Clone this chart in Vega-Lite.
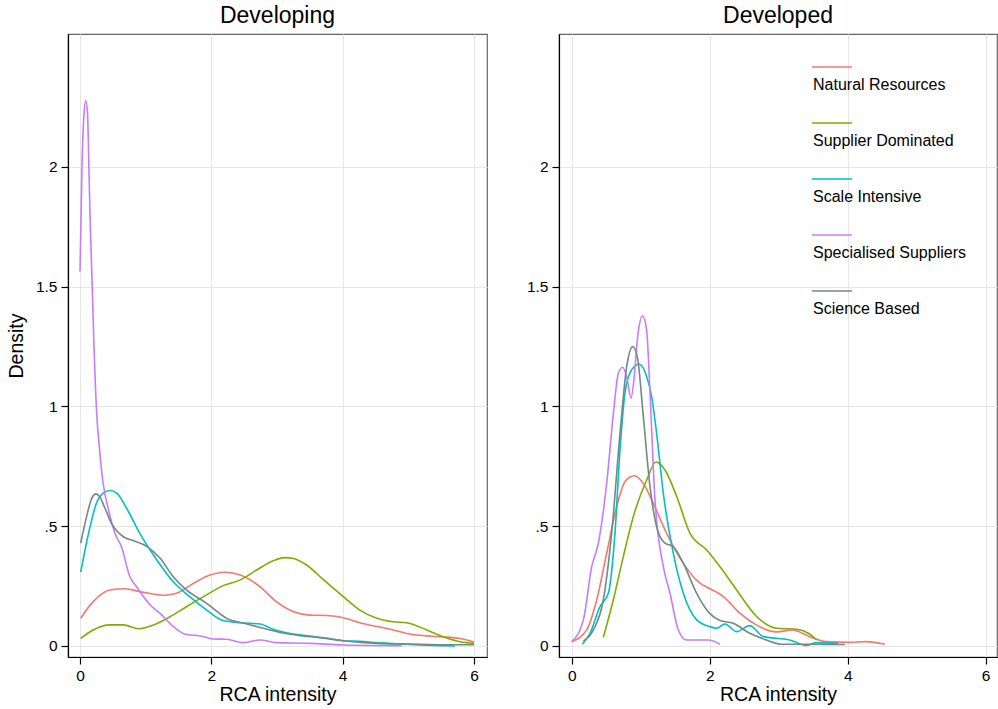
{
  "$schema": "https://vega.github.io/schema/vega-lite/v6.json",
  "padding": {"left": 5, "top": 4, "right": 0, "bottom": 0},
  "background": "white",
  "config": {
    "font": "Liberation Sans",
    "view": {"stroke": "#666666", "strokeWidth": 1.2},
    "title": {"fontSize": 23, "fontWeight": "normal", "color": "black", "offset": 6, "font": "Liberation Sans"},
    "axis": {
      "labelFont": "Liberation Sans", "labelFontSize": 15.5, "labelColor": "black",
      "titleFont": "Liberation Sans", "titleFontSize": 19.5, "titleFontWeight": "normal", "titleColor": "black",
      "domainColor": "black", "domainWidth": 1.2, "tickColor": "black", "tickWidth": 1.2, "tickSize": 7,
      "gridColor": "#e6e6e6", "gridWidth": 1, "labelPadding": 4
    },
    "axisX": {"titlePadding": 2},
    "axisY": {"titlePadding": 9}
  },
  "data": {"values": [
    {"panel":"Developing","series":"Natural Resources","x":0.01,"d":0.116},
    {"panel":"Developing","series":"Natural Resources","x":0.2,"d":0.185},
    {"panel":"Developing","series":"Natural Resources","x":0.457,"d":0.234},
    {"panel":"Developing","series":"Natural Resources","x":0.685,"d":0.239},
    {"panel":"Developing","series":"Natural Resources","x":0.91,"d":0.227},
    {"panel":"Developing","series":"Natural Resources","x":1.27,"d":0.212},
    {"panel":"Developing","series":"Natural Resources","x":1.47,"d":0.22},
    {"panel":"Developing","series":"Natural Resources","x":1.73,"d":0.262},
    {"panel":"Developing","series":"Natural Resources","x":1.98,"d":0.296},
    {"panel":"Developing","series":"Natural Resources","x":2.21,"d":0.308},
    {"panel":"Developing","series":"Natural Resources","x":2.44,"d":0.296},
    {"panel":"Developing","series":"Natural Resources","x":2.74,"d":0.248},
    {"panel":"Developing","series":"Natural Resources","x":2.99,"d":0.185},
    {"panel":"Developing","series":"Natural Resources","x":3.25,"d":0.143},
    {"panel":"Developing","series":"Natural Resources","x":3.5,"d":0.129},
    {"panel":"Developing","series":"Natural Resources","x":3.76,"d":0.127},
    {"panel":"Developing","series":"Natural Resources","x":4.01,"d":0.118},
    {"panel":"Developing","series":"Natural Resources","x":4.26,"d":0.097},
    {"panel":"Developing","series":"Natural Resources","x":4.52,"d":0.081},
    {"panel":"Developing","series":"Natural Resources","x":4.77,"d":0.067},
    {"panel":"Developing","series":"Natural Resources","x":5.02,"d":0.05},
    {"panel":"Developing","series":"Natural Resources","x":5.28,"d":0.042},
    {"panel":"Developing","series":"Natural Resources","x":5.53,"d":0.038},
    {"panel":"Developing","series":"Natural Resources","x":5.79,"d":0.031},
    {"panel":"Developing","series":"Natural Resources","x":6.0,"d":0.017},

    {"panel":"Developing","series":"Supplier Dominated","x":0.01,"d":0.032},
    {"panel":"Developing","series":"Supplier Dominated","x":0.2,"d":0.067},
    {"panel":"Developing","series":"Supplier Dominated","x":0.457,"d":0.088},
    {"panel":"Developing","series":"Supplier Dominated","x":0.66,"d":0.088},
    {"panel":"Developing","series":"Supplier Dominated","x":0.89,"d":0.072},
    {"panel":"Developing","series":"Supplier Dominated","x":1.12,"d":0.088},
    {"panel":"Developing","series":"Supplier Dominated","x":1.37,"d":0.122},
    {"panel":"Developing","series":"Supplier Dominated","x":1.62,"d":0.164},
    {"panel":"Developing","series":"Supplier Dominated","x":1.88,"d":0.206},
    {"panel":"Developing","series":"Supplier Dominated","x":2.18,"d":0.252},
    {"panel":"Developing","series":"Supplier Dominated","x":2.44,"d":0.276},
    {"panel":"Developing","series":"Supplier Dominated","x":2.69,"d":0.317},
    {"panel":"Developing","series":"Supplier Dominated","x":2.94,"d":0.356},
    {"panel":"Developing","series":"Supplier Dominated","x":3.12,"d":0.369},
    {"panel":"Developing","series":"Supplier Dominated","x":3.25,"d":0.365},
    {"panel":"Developing","series":"Supplier Dominated","x":3.45,"d":0.338},
    {"panel":"Developing","series":"Supplier Dominated","x":3.71,"d":0.276},
    {"panel":"Developing","series":"Supplier Dominated","x":4.01,"d":0.206},
    {"panel":"Developing","series":"Supplier Dominated","x":4.26,"d":0.15},
    {"panel":"Developing","series":"Supplier Dominated","x":4.52,"d":0.116},
    {"panel":"Developing","series":"Supplier Dominated","x":4.77,"d":0.101},
    {"panel":"Developing","series":"Supplier Dominated","x":4.97,"d":0.097},
    {"panel":"Developing","series":"Supplier Dominated","x":5.28,"d":0.067},
    {"panel":"Developing","series":"Supplier Dominated","x":5.53,"d":0.039},
    {"panel":"Developing","series":"Supplier Dominated","x":5.79,"d":0.018},
    {"panel":"Developing","series":"Supplier Dominated","x":6.0,"d":0.011},

    {"panel":"Developing","series":"Scale Intensive","x":0.01,"d":0.308},
    {"panel":"Developing","series":"Scale Intensive","x":0.13,"d":0.47},
    {"panel":"Developing","series":"Scale Intensive","x":0.25,"d":0.596},
    {"panel":"Developing","series":"Scale Intensive","x":0.355,"d":0.638},
    {"panel":"Developing","series":"Scale Intensive","x":0.457,"d":0.649},
    {"panel":"Developing","series":"Scale Intensive","x":0.56,"d":0.638},
    {"panel":"Developing","series":"Scale Intensive","x":0.71,"d":0.575},
    {"panel":"Developing","series":"Scale Intensive","x":0.91,"d":0.47},
    {"panel":"Developing","series":"Scale Intensive","x":1.17,"d":0.359},
    {"panel":"Developing","series":"Scale Intensive","x":1.42,"d":0.268},
    {"panel":"Developing","series":"Scale Intensive","x":1.67,"d":0.206},
    {"panel":"Developing","series":"Scale Intensive","x":1.93,"d":0.15},
    {"panel":"Developing","series":"Scale Intensive","x":2.18,"d":0.106},
    {"panel":"Developing","series":"Scale Intensive","x":2.44,"d":0.097},
    {"panel":"Developing","series":"Scale Intensive","x":2.74,"d":0.092},
    {"panel":"Developing","series":"Scale Intensive","x":2.94,"d":0.07},
    {"panel":"Developing","series":"Scale Intensive","x":3.25,"d":0.05},
    {"panel":"Developing","series":"Scale Intensive","x":3.5,"d":0.042},
    {"panel":"Developing","series":"Scale Intensive","x":3.76,"d":0.032},
    {"panel":"Developing","series":"Scale Intensive","x":4.01,"d":0.022},
    {"panel":"Developing","series":"Scale Intensive","x":4.26,"d":0.02},
    {"panel":"Developing","series":"Scale Intensive","x":4.52,"d":0.014},
    {"panel":"Developing","series":"Scale Intensive","x":4.77,"d":0.01},
    {"panel":"Developing","series":"Scale Intensive","x":5.28,"d":0.003},
    {"panel":"Developing","series":"Scale Intensive","x":5.71,"d":0.0},

    {"panel":"Developing","series":"Specialised Suppliers","x":0.0,"d":1.563},
    {"panel":"Developing","series":"Specialised Suppliers","x":0.03,"d":2.0},
    {"panel":"Developing","series":"Specialised Suppliers","x":0.06,"d":2.22},
    {"panel":"Developing","series":"Specialised Suppliers","x":0.088,"d":2.277},
    {"panel":"Developing","series":"Specialised Suppliers","x":0.115,"d":2.22},
    {"panel":"Developing","series":"Specialised Suppliers","x":0.135,"d":2.0},
    {"panel":"Developing","series":"Specialised Suppliers","x":0.152,"d":1.806},
    {"panel":"Developing","series":"Specialised Suppliers","x":0.183,"d":1.528},
    {"panel":"Developing","series":"Specialised Suppliers","x":0.213,"d":1.25},
    {"panel":"Developing","series":"Specialised Suppliers","x":0.254,"d":0.971},
    {"panel":"Developing","series":"Specialised Suppliers","x":0.294,"d":0.832},
    {"panel":"Developing","series":"Specialised Suppliers","x":0.345,"d":0.693},
    {"panel":"Developing","series":"Specialised Suppliers","x":0.447,"d":0.554},
    {"panel":"Developing","series":"Specialised Suppliers","x":0.533,"d":0.47},
    {"panel":"Developing","series":"Specialised Suppliers","x":0.63,"d":0.415},
    {"panel":"Developing","series":"Specialised Suppliers","x":0.76,"d":0.289},
    {"panel":"Developing","series":"Specialised Suppliers","x":0.86,"d":0.248},
    {"panel":"Developing","series":"Specialised Suppliers","x":1.07,"d":0.171},
    {"panel":"Developing","series":"Specialised Suppliers","x":1.22,"d":0.136},
    {"panel":"Developing","series":"Specialised Suppliers","x":1.42,"d":0.081},
    {"panel":"Developing","series":"Specialised Suppliers","x":1.6,"d":0.049},
    {"panel":"Developing","series":"Specialised Suppliers","x":1.83,"d":0.042},
    {"panel":"Developing","series":"Specialised Suppliers","x":2.03,"d":0.029},
    {"panel":"Developing","series":"Specialised Suppliers","x":2.23,"d":0.028},
    {"panel":"Developing","series":"Specialised Suppliers","x":2.49,"d":0.014},
    {"panel":"Developing","series":"Specialised Suppliers","x":2.74,"d":0.025},
    {"panel":"Developing","series":"Specialised Suppliers","x":2.99,"d":0.014},
    {"panel":"Developing","series":"Specialised Suppliers","x":3.5,"d":0.011},
    {"panel":"Developing","series":"Specialised Suppliers","x":4.01,"d":0.004},
    {"panel":"Developing","series":"Specialised Suppliers","x":4.9,"d":0.001},

    {"panel":"Developing","series":"Science Based","x":0.01,"d":0.429},
    {"panel":"Developing","series":"Science Based","x":0.1,"d":0.54},
    {"panel":"Developing","series":"Science Based","x":0.18,"d":0.617},
    {"panel":"Developing","series":"Science Based","x":0.24,"d":0.635},
    {"panel":"Developing","series":"Science Based","x":0.3,"d":0.623},
    {"panel":"Developing","series":"Science Based","x":0.38,"d":0.575},
    {"panel":"Developing","series":"Science Based","x":0.48,"d":0.512},
    {"panel":"Developing","series":"Science Based","x":0.66,"d":0.456},
    {"panel":"Developing","series":"Science Based","x":0.81,"d":0.44},
    {"panel":"Developing","series":"Science Based","x":1.02,"d":0.415},
    {"panel":"Developing","series":"Science Based","x":1.22,"d":0.366},
    {"panel":"Developing","series":"Science Based","x":1.42,"d":0.289},
    {"panel":"Developing","series":"Science Based","x":1.62,"d":0.234},
    {"panel":"Developing","series":"Science Based","x":1.93,"d":0.178},
    {"panel":"Developing","series":"Science Based","x":2.23,"d":0.116},
    {"panel":"Developing","series":"Science Based","x":2.54,"d":0.092},
    {"panel":"Developing","series":"Science Based","x":2.79,"d":0.074},
    {"panel":"Developing","series":"Science Based","x":3.05,"d":0.056},
    {"panel":"Developing","series":"Science Based","x":3.35,"d":0.043},
    {"panel":"Developing","series":"Science Based","x":3.65,"d":0.035},
    {"panel":"Developing","series":"Science Based","x":4.01,"d":0.022},
    {"panel":"Developing","series":"Science Based","x":4.52,"d":0.011},
    {"panel":"Developing","series":"Science Based","x":5.02,"d":0.008},
    {"panel":"Developing","series":"Science Based","x":5.53,"d":0.005},
    {"panel":"Developing","series":"Science Based","x":6.0,"d":0.005},

    {"panel":"Developed","series":"Natural Resources","x":0.0,"d":0.018},
    {"panel":"Developed","series":"Natural Resources","x":0.217,"d":0.067},
    {"panel":"Developed","series":"Natural Resources","x":0.362,"d":0.192},
    {"panel":"Developed","series":"Natural Resources","x":0.507,"d":0.387},
    {"panel":"Developed","series":"Natural Resources","x":0.652,"d":0.582},
    {"panel":"Developed","series":"Natural Resources","x":0.772,"d":0.686},
    {"panel":"Developed","series":"Natural Resources","x":0.903,"d":0.711},
    {"panel":"Developed","series":"Natural Resources","x":1.038,"d":0.679},
    {"panel":"Developed","series":"Natural Resources","x":1.183,"d":0.595},
    {"panel":"Developed","series":"Natural Resources","x":1.376,"d":0.47},
    {"panel":"Developed","series":"Natural Resources","x":1.618,"d":0.345},
    {"panel":"Developed","series":"Natural Resources","x":1.86,"d":0.262},
    {"panel":"Developed","series":"Natural Resources","x":2.0,"d":0.24},
    {"panel":"Developed","series":"Natural Resources","x":2.2,"d":0.206},
    {"panel":"Developed","series":"Natural Resources","x":2.44,"d":0.136},
    {"panel":"Developed","series":"Natural Resources","x":2.68,"d":0.087},
    {"panel":"Developed","series":"Natural Resources","x":2.97,"d":0.059},
    {"panel":"Developed","series":"Natural Resources","x":3.2,"d":0.067},
    {"panel":"Developed","series":"Natural Resources","x":3.45,"d":0.039},
    {"panel":"Developed","series":"Natural Resources","x":3.69,"d":0.018},
    {"panel":"Developed","series":"Natural Resources","x":4.03,"d":0.015},
    {"panel":"Developed","series":"Natural Resources","x":4.27,"d":0.018},
    {"panel":"Developed","series":"Natural Resources","x":4.54,"d":0.007},

    {"panel":"Developed","series":"Supplier Dominated","x":0.458,"d":0.036},
    {"panel":"Developed","series":"Supplier Dominated","x":0.603,"d":0.192},
    {"panel":"Developed","series":"Supplier Dominated","x":0.748,"d":0.373},
    {"panel":"Developed","series":"Supplier Dominated","x":0.893,"d":0.54},
    {"panel":"Developed","series":"Supplier Dominated","x":1.086,"d":0.693},
    {"panel":"Developed","series":"Supplier Dominated","x":1.222,"d":0.768},
    {"panel":"Developed","series":"Supplier Dominated","x":1.352,"d":0.735},
    {"panel":"Developed","series":"Supplier Dominated","x":1.522,"d":0.624},
    {"panel":"Developed","series":"Supplier Dominated","x":1.715,"d":0.47},
    {"panel":"Developed","series":"Supplier Dominated","x":1.957,"d":0.401},
    {"panel":"Developed","series":"Supplier Dominated","x":2.15,"d":0.331},
    {"panel":"Developed","series":"Supplier Dominated","x":2.39,"d":0.234},
    {"panel":"Developed","series":"Supplier Dominated","x":2.68,"d":0.123},
    {"panel":"Developed","series":"Supplier Dominated","x":2.97,"d":0.074},
    {"panel":"Developed","series":"Supplier Dominated","x":3.26,"d":0.07},
    {"panel":"Developed","series":"Supplier Dominated","x":3.43,"d":0.053},
    {"panel":"Developed","series":"Supplier Dominated","x":3.55,"d":0.025},

    {"panel":"Developed","series":"Scale Intensive","x":0.154,"d":0.007},
    {"panel":"Developed","series":"Scale Intensive","x":0.265,"d":0.053},
    {"panel":"Developed","series":"Scale Intensive","x":0.41,"d":0.164},
    {"panel":"Developed","series":"Scale Intensive","x":0.531,"d":0.22},
    {"panel":"Developed","series":"Scale Intensive","x":0.627,"d":0.47},
    {"panel":"Developed","series":"Scale Intensive","x":0.7,"d":0.819},
    {"panel":"Developed","series":"Scale Intensive","x":0.772,"d":1.056},
    {"panel":"Developed","series":"Scale Intensive","x":0.869,"d":1.153},
    {"panel":"Developed","series":"Scale Intensive","x":0.98,"d":1.176},
    {"panel":"Developed","series":"Scale Intensive","x":1.086,"d":1.125},
    {"panel":"Developed","series":"Scale Intensive","x":1.158,"d":1.042},
    {"panel":"Developed","series":"Scale Intensive","x":1.231,"d":0.887},
    {"panel":"Developed","series":"Scale Intensive","x":1.328,"d":0.637},
    {"panel":"Developed","series":"Scale Intensive","x":1.473,"d":0.387},
    {"panel":"Developed","series":"Scale Intensive","x":1.618,"d":0.22},
    {"panel":"Developed","series":"Scale Intensive","x":1.811,"d":0.109},
    {"panel":"Developed","series":"Scale Intensive","x":2.0,"d":0.081},
    {"panel":"Developed","series":"Scale Intensive","x":2.1,"d":0.074},
    {"panel":"Developed","series":"Scale Intensive","x":2.22,"d":0.092},
    {"panel":"Developed","series":"Scale Intensive","x":2.39,"d":0.06},
    {"panel":"Developed","series":"Scale Intensive","x":2.58,"d":0.085},
    {"panel":"Developed","series":"Scale Intensive","x":2.78,"d":0.039},
    {"panel":"Developed","series":"Scale Intensive","x":2.97,"d":0.032},
    {"panel":"Developed","series":"Scale Intensive","x":3.16,"d":0.025},
    {"panel":"Developed","series":"Scale Intensive","x":3.4,"d":0.002},
    {"panel":"Developed","series":"Scale Intensive","x":3.55,"d":0.014},
    {"panel":"Developed","series":"Scale Intensive","x":3.86,"d":0.011},

    {"panel":"Developed","series":"Specialised Suppliers","x":0.0,"d":0.018},
    {"panel":"Developed","series":"Specialised Suppliers","x":0.169,"d":0.109},
    {"panel":"Developed","series":"Specialised Suppliers","x":0.29,"d":0.331},
    {"panel":"Developed","series":"Specialised Suppliers","x":0.386,"d":0.429},
    {"panel":"Developed","series":"Specialised Suppliers","x":0.507,"d":0.679},
    {"panel":"Developed","series":"Specialised Suppliers","x":0.6,"d":0.958},
    {"panel":"Developed","series":"Specialised Suppliers","x":0.676,"d":1.139},
    {"panel":"Developed","series":"Specialised Suppliers","x":0.739,"d":1.164},
    {"panel":"Developed","series":"Specialised Suppliers","x":0.806,"d":1.111},
    {"panel":"Developed","series":"Specialised Suppliers","x":0.859,"d":1.034},
    {"panel":"Developed","series":"Specialised Suppliers","x":0.905,"d":1.12},
    {"panel":"Developed","series":"Specialised Suppliers","x":0.951,"d":1.278},
    {"panel":"Developed","series":"Specialised Suppliers","x":1.028,"d":1.378},
    {"panel":"Developed","series":"Specialised Suppliers","x":1.086,"d":1.32},
    {"panel":"Developed","series":"Specialised Suppliers","x":1.135,"d":1.056},
    {"panel":"Developed","series":"Specialised Suppliers","x":1.207,"d":0.61},
    {"panel":"Developed","series":"Specialised Suppliers","x":1.328,"d":0.331},
    {"panel":"Developed","series":"Specialised Suppliers","x":1.425,"d":0.22},
    {"panel":"Developed","series":"Specialised Suppliers","x":1.545,"d":0.067},
    {"panel":"Developed","series":"Specialised Suppliers","x":1.666,"d":0.025},
    {"panel":"Developed","series":"Specialised Suppliers","x":1.86,"d":0.025},
    {"panel":"Developed","series":"Specialised Suppliers","x":1.98,"d":0.025},
    {"panel":"Developed","series":"Specialised Suppliers","x":2.15,"d":0.007},

    {"panel":"Developed","series":"Science Based","x":0.169,"d":0.02},
    {"panel":"Developed","series":"Science Based","x":0.314,"d":0.067},
    {"panel":"Developed","series":"Science Based","x":0.458,"d":0.192},
    {"panel":"Developed","series":"Science Based","x":0.579,"d":0.47},
    {"panel":"Developed","series":"Science Based","x":0.7,"d":0.887},
    {"panel":"Developed","series":"Science Based","x":0.797,"d":1.166},
    {"panel":"Developed","series":"Science Based","x":0.884,"d":1.25},
    {"panel":"Developed","series":"Science Based","x":0.951,"d":1.208},
    {"panel":"Developed","series":"Science Based","x":1.038,"d":0.958},
    {"panel":"Developed","series":"Science Based","x":1.135,"d":0.665},
    {"panel":"Developed","series":"Science Based","x":1.231,"d":0.498},
    {"panel":"Developed","series":"Science Based","x":1.352,"d":0.429},
    {"panel":"Developed","series":"Science Based","x":1.473,"d":0.415},
    {"panel":"Developed","series":"Science Based","x":1.618,"d":0.345},
    {"panel":"Developed","series":"Science Based","x":1.811,"d":0.22},
    {"panel":"Developed","series":"Science Based","x":2.0,"d":0.136},
    {"panel":"Developed","series":"Science Based","x":2.15,"d":0.106},
    {"panel":"Developed","series":"Science Based","x":2.34,"d":0.095},
    {"panel":"Developed","series":"Science Based","x":2.58,"d":0.053},
    {"panel":"Developed","series":"Science Based","x":2.82,"d":0.025},
    {"panel":"Developed","series":"Science Based","x":3.06,"d":0.007},
    {"panel":"Developed","series":"Science Based","x":3.55,"d":0.007},
    {"panel":"Developed","series":"Science Based","x":3.96,"d":0.006}
  ]},
  "spacing": 37,
  "resolve": {"legend": {"color": "independent"}},
  "hconcat": [
    {
      "width": 419, "height": 623,
      "title": "Developing",
      "transform": [{"filter": "datum.panel == 'Developing'"}],
      "mark": {"type": "line", "interpolate": "monotone", "strokeWidth": 1.6},
      "encoding": {
        "x": {"field": "x", "type": "quantitative",
              "scale": {"domain": [-0.183, 6.198], "nice": false, "zero": false},
              "axis": {"values": [0, 2, 4, 6], "title": "RCA intensity", "format": "~g"}},
        "y": {"field": "d", "type": "quantitative",
              "scale": {"domain": [-0.046, 2.555], "nice": false, "zero": false},
              "axis": {"values": [0, 0.5, 1, 1.5, 2], "title": "Density", "format": "~g",
                       "labelExpr": "datum.value == 0.5 ? '.5' : datum.label"}},
        "color": {"field": "series", "type": "nominal",
                  "scale": {"domain": ["Natural Resources", "Supplier Dominated", "Scale Intensive", "Specialised Suppliers", "Science Based"],
                            "range": ["#F8766D", "#7CAE00", "#00BFC4", "#C77CFF", "#6E8B84"]},
                  "legend": null}
      }
    },
    {
      "width": 438, "height": 623,
      "title": "Developed",
      "transform": [{"filter": "datum.panel == 'Developed'"}],
      "mark": {"type": "line", "interpolate": "monotone", "strokeWidth": 1.6},
      "encoding": {
        "x": {"field": "x", "type": "quantitative",
              "scale": {"domain": [-0.184, 6.164], "nice": false, "zero": false},
              "axis": {"values": [0, 2, 4, 6], "title": "RCA intensity", "format": "~g"}},
        "y": {"field": "d", "type": "quantitative",
              "scale": {"domain": [-0.046, 2.555], "nice": false, "zero": false},
              "axis": {"values": [0, 0.5, 1, 1.5, 2], "title": null, "format": "~g",
                       "labelExpr": "datum.value == 0.5 ? '.5' : datum.label"}},
        "color": {"field": "series", "type": "nominal",
                  "scale": {"domain": ["Natural Resources", "Supplier Dominated", "Scale Intensive", "Specialised Suppliers", "Science Based"],
                            "range": ["#F8766D", "#7CAE00", "#00BFC4", "#C77CFF", "#6E8B84"]},
                  "legend": {"orient": "none", "legendX": 252, "legendY": 12, "title": null,
                             "symbolType": "stroke", "symbolSize": 1600, "symbolStrokeWidth": 1.6,
                             "labelOffset": -40, "rowPadding": 9, "labelFontSize": 16,
                             "labelFont": "Liberation Sans", "labelColor": "black", "padding": 0,
                             "labelLimit": 300,
                             "encode": {"labels": {"update": {"dy": {"value": 18}}}}}}
      }
    }
  ]
}
